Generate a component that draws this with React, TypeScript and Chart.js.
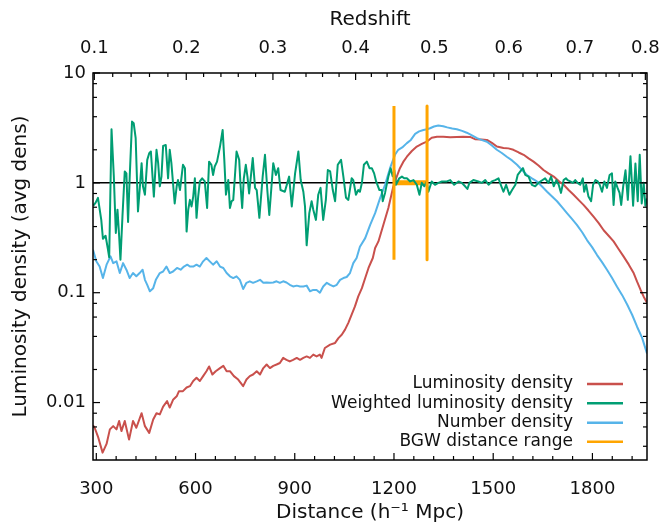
import React, { useEffect, useRef } from 'react';
import { Chart, registerables } from 'chart.js';

Chart.register(...registerables);

const FONT = '"DejaVu Sans", "Liberation Sans", sans-serif';

// Axis ranges and tick labels
const distMin = 290;
const distMax = 1965;
const densMin = 0.003;
const densMax = 10;
const distTicks = [300, 600, 900, 1200, 1500, 1800];
const redshiftLabels = ['0.1', '0.2', '0.3', '0.4', '0.5', '0.6', '0.7', '0.8'];
const redshiftDist = [294, 572, 834, 1084, 1322, 1547, 1762, 1960];
const densTicks = [0.01, 0.1, 1, 10];
const densTickLabels = ['0.01', '0.1', '1', '10'];

// Luminosity density (red)
const lumDist = [290, 295, 305, 319, 331, 341, 351, 361, 369, 376, 386, 399, 411, 421, 437, 447, 460, 472, 482, 492, 502, 514, 522, 532, 543, 550, 562, 573, 583, 593, 603, 613, 623, 633, 641, 651, 661, 674, 684, 694, 704, 716, 729, 744, 754, 764, 774, 785, 795, 805, 815, 825, 835, 845, 855, 865, 875, 885, 895, 906, 916, 926, 936, 946, 956, 966, 976, 981, 991, 1007, 1022, 1032, 1042, 1052, 1062, 1072, 1082, 1092, 1103, 1113, 1123, 1136, 1143, 1153, 1168, 1183, 1198, 1208, 1218, 1228, 1239, 1254, 1269, 1284, 1299, 1314, 1330, 1349, 1370, 1390, 1409, 1430, 1445, 1464, 1481, 1496, 1511, 1531, 1546, 1561, 1577, 1592, 1607, 1622, 1637, 1652, 1667, 1683, 1698, 1713, 1728, 1743, 1758, 1773, 1788, 1804, 1819, 1834, 1849, 1864, 1879, 1894, 1910, 1925, 1935, 1945, 1955, 1965];
const lumVal = [0.0062, 0.0059, 0.0049, 0.0035, 0.0042, 0.0057, 0.0061, 0.0057, 0.0068, 0.0055, 0.0068, 0.0046, 0.0068, 0.0059, 0.008, 0.0061, 0.0053, 0.007, 0.008, 0.0078, 0.0092, 0.0103, 0.009, 0.0106, 0.0114, 0.0127, 0.0127, 0.0137, 0.0141, 0.0157, 0.0168, 0.0157, 0.0174, 0.0193, 0.0213, 0.018, 0.0193, 0.0206, 0.0216, 0.0193, 0.0193, 0.0174, 0.0162, 0.0141, 0.0162, 0.0174, 0.018, 0.0193, 0.018, 0.0206, 0.0222, 0.0206, 0.0216, 0.0222, 0.0229, 0.0255, 0.0245, 0.0237, 0.0245, 0.0255, 0.0245, 0.0255, 0.0263, 0.0255, 0.0273, 0.0263, 0.0273, 0.0255, 0.0314, 0.0337, 0.0349, 0.0386, 0.0414, 0.0461, 0.0532, 0.0632, 0.075, 0.0925, 0.11, 0.136, 0.168, 0.207, 0.255, 0.293, 0.415, 0.59, 0.925, 1.13, 1.36, 1.55, 1.73, 1.95, 2.14, 2.26, 2.37, 2.57, 2.63, 2.63, 2.6, 2.62, 2.63, 2.62, 2.5, 2.48, 2.46, 2.31, 2.14, 2.08, 2.06, 2.0, 1.89, 1.8, 1.67, 1.56, 1.44, 1.31, 1.22, 1.14, 1.04, 0.96, 0.86, 0.78, 0.7, 0.63, 0.56, 0.49, 0.43, 0.37, 0.33, 0.293, 0.25, 0.214, 0.18, 0.15, 0.126, 0.107, 0.092, 0.081];

// Weighted luminosity density (green)
const wlumDist = [291, 298, 305, 315, 320, 328, 335, 339, 346, 353, 359, 364, 369, 373, 379, 386, 391, 396, 401, 408, 413, 419, 426, 431, 437, 441, 447, 454, 460, 465, 470, 474, 482, 487, 492, 497, 502, 510, 517, 522, 527, 537, 543, 547, 553, 562, 568, 573, 578, 583, 588, 593, 598, 603, 608, 613, 620, 628, 635, 641, 648, 653, 658, 665, 674, 682, 687, 692, 699, 704, 709, 714, 719, 724, 732, 736, 741, 746, 752, 757, 762, 773, 780, 785, 793, 803, 810, 817, 823, 835, 843, 850, 857, 870, 883, 891, 901, 911, 918, 926, 931, 936, 944, 951, 956, 964, 971, 978, 986, 994, 1000, 1007, 1015, 1022, 1030, 1040, 1047, 1055, 1062, 1072, 1077, 1085, 1092, 1097, 1103, 1109, 1118, 1126, 1133, 1140, 1146, 1156, 1163, 1166, 1173, 1183, 1190, 1196, 1201, 1206, 1216, 1224, 1231, 1239, 1249, 1259, 1269, 1277, 1284, 1292, 1299, 1304, 1314, 1324, 1334, 1345, 1360, 1370, 1382, 1395, 1405, 1415, 1422, 1428, 1440, 1455, 1466, 1476, 1486, 1496, 1506, 1516, 1523, 1531, 1539, 1549, 1557, 1567, 1574, 1582, 1590, 1597, 1607, 1617, 1627, 1637, 1647, 1657, 1667, 1675, 1683, 1691, 1698, 1705, 1713, 1720, 1725, 1733, 1741, 1748, 1755, 1763, 1771, 1775, 1781, 1788, 1796, 1802, 1809, 1816, 1822, 1829, 1836, 1844, 1852, 1859, 1864, 1869, 1876, 1882, 1887, 1893, 1900, 1907, 1915, 1923, 1930, 1937, 1943, 1949, 1955, 1960, 1965];
const wlumVal = [0.62, 0.66, 0.73, 0.46, 0.31, 0.33, 0.25, 0.21, 3.08, 1.14, 0.35, 0.57, 0.33, 0.2, 0.49, 1.27, 1.22, 0.44, 1.14, 3.61, 3.49, 2.55, 0.55, 0.86, 1.51, 0.93, 0.78, 1.62, 1.86, 1.93, 1.14, 0.75, 2.0, 1.51, 0.93, 1.14, 2.17, 2.21, 1.1, 2.0, 1.51, 0.65, 0.93, 1.06, 0.86, 1.46, 1.36, 0.36, 0.57, 0.7, 0.61, 0.75, 1.1, 0.48, 0.75, 1.03, 1.1, 1.03, 0.59, 1.56, 1.46, 1.18, 1.41, 1.56, 2.14, 3.03, 1.62, 0.78, 1.06, 0.59, 0.68, 0.7, 1.14, 1.93, 1.62, 0.96, 0.59, 1.1, 1.46, 1.14, 0.8, 1.68, 0.9, 0.86, 0.48, 1.14, 1.8, 0.86, 0.51, 1.51, 1.18, 1.36, 0.86, 0.83, 1.14, 0.61, 1.22, 1.93, 1.06, 0.83, 0.61, 0.27, 0.53, 0.68, 0.57, 0.46, 0.78, 0.9, 0.46, 0.7, 1.31, 1.27, 0.86, 0.68, 1.46, 1.62, 1.14, 0.73, 0.7, 1.1, 1.06, 0.78, 0.86, 0.83, 1.0, 1.46, 1.56, 1.36, 1.36, 1.22, 1.03, 0.86, 0.86, 0.68, 0.81, 1.14, 1.36, 1.15, 1.3, 0.96, 1.1, 1.14, 1.1, 1.1, 1.03, 1.06, 0.96, 0.78, 1.0, 0.93, 1.03, 0.83, 1.03, 0.96, 1.0, 1.03, 1.03, 1.06, 0.96, 1.03, 1.0, 0.93, 0.88, 1.0, 1.06, 1.03, 1.0, 1.06, 0.96, 1.03, 1.06, 1.1, 0.96, 0.83, 0.96, 0.78, 0.86, 0.96, 1.18, 1.27, 1.36, 1.18, 1.14, 0.96, 0.93, 1.0, 1.05, 1.1, 1.0, 1.14, 0.93, 1.06, 0.96, 0.81, 1.06, 1.1, 1.06, 1.03, 1.0, 1.06, 1.0, 0.96, 1.1, 0.83, 0.96, 0.75, 0.68, 0.96, 1.06, 1.03, 0.96, 0.83, 1.03, 0.9, 1.18, 1.22, 0.63, 1.03, 0.9, 0.81, 0.63, 0.93, 1.3, 0.7, 1.75, 0.62, 1.5, 0.68, 1.8, 0.65, 1.0, 0.62, 0.72];

// Number density (blue)
const numDist = [290, 300, 310, 320, 331, 343, 351, 361, 371, 381, 391, 401, 411, 421, 431, 440, 447, 454, 462, 472, 480, 492, 502, 512, 522, 532, 544, 555, 565, 575, 583, 593, 603, 613, 623, 633, 643, 653, 664, 674, 684, 694, 704, 714, 724, 734, 744, 754, 764, 774, 785, 795, 805, 815, 825, 835, 845, 855, 865, 875, 885, 895, 906, 916, 926, 936, 946, 956, 966, 976, 986, 997, 1007, 1017, 1027, 1037, 1047, 1057, 1067, 1077, 1087, 1097, 1113, 1128, 1143, 1158, 1173, 1188, 1203, 1213, 1225, 1239, 1251, 1264, 1276, 1289, 1300, 1309, 1321, 1334, 1349, 1361, 1376, 1390, 1406, 1420, 1433, 1451, 1464, 1481, 1496, 1511, 1526, 1541, 1557, 1572, 1587, 1602, 1617, 1632, 1647, 1663, 1678, 1693, 1708, 1723, 1738, 1753, 1769, 1784, 1799, 1814, 1829, 1844, 1859, 1874, 1890, 1905, 1920, 1935, 1950, 1965];
const numVal = [0.246, 0.193, 0.173, 0.136, 0.18, 0.214, 0.186, 0.193, 0.151, 0.186, 0.162, 0.136, 0.151, 0.141, 0.151, 0.162, 0.131, 0.118, 0.103, 0.11, 0.131, 0.151, 0.156, 0.173, 0.151, 0.156, 0.168, 0.162, 0.173, 0.18, 0.173, 0.173, 0.18, 0.173, 0.193, 0.207, 0.193, 0.18, 0.193, 0.173, 0.168, 0.151, 0.141, 0.136, 0.141, 0.131, 0.108, 0.123, 0.127, 0.123, 0.127, 0.131, 0.123, 0.124, 0.123, 0.124, 0.127, 0.123, 0.127, 0.124, 0.118, 0.114, 0.116, 0.114, 0.114, 0.116, 0.103, 0.106, 0.106, 0.1, 0.114, 0.123, 0.118, 0.114, 0.118, 0.131, 0.136, 0.139, 0.151, 0.186, 0.207, 0.262, 0.314, 0.415, 0.53, 0.726, 0.96, 1.36, 1.8, 2.0, 2.1, 2.3, 2.46, 2.79, 2.94, 3.03, 3.08, 3.14, 3.26, 3.32, 3.28, 3.2, 3.13, 3.08, 2.97, 2.86, 2.73, 2.55, 2.46, 2.37, 2.19, 2.0, 1.87, 1.73, 1.6, 1.46, 1.31, 1.18, 1.1, 1.03, 0.93, 0.83, 0.75, 0.68, 0.6, 0.53, 0.47, 0.415, 0.355, 0.3, 0.26, 0.22, 0.19, 0.162, 0.137, 0.114, 0.095, 0.078, 0.063, 0.049, 0.039, 0.028];

// BGW distance range
const bgwRange = [1200, 1300];
const bgwLow = 0.2;
const bgwHigh = 5;
const unityLevel = 1;

const legendLabels = ['Luminosity density', 'Weighted luminosity density', 'Number density', 'BGW distance range'];

const RED = '#c9504c';
const GREEN = '#009e73';
const BLUE = '#56b4e9';
const ORANGE = '#ffa500';
const legendColors = [RED, GREEN, BLUE, ORANGE];

const zip = (xs: number[], ys: (number | null)[]) => xs.map((x, i) => ({ x, y: ys[i] }));

const framePlugin = {
  id: 'frameTicks',
  afterDatasetsDraw(chart: any) {
    const { ctx, chartArea } = chart;
    const { left, right, top, bottom } = chartArea;
    const xs = chart.scales.x;
    const ys = chart.scales.y;
    ctx.save();
    ctx.strokeStyle = '#000';
    ctx.lineWidth = 1.2;
    const major = 7;
    const minor = 4;
    const seg = (x1: number, y1: number, x2: number, y2: number) => {
      ctx.beginPath();
      ctx.moveTo(x1, y1);
      ctx.lineTo(x2, y2);
      ctx.stroke();
    };
    // bottom distance ticks
    for (let d = 300; d <= distMax; d += 60) {
      const px = xs.getPixelForValue(d);
      const len = distTicks.includes(d) ? major : minor;
      seg(px, bottom, px, bottom - len);
    }
    // top redshift ticks
    for (let i = 0; i < redshiftDist.length; i++) {
      const px = xs.getPixelForValue(redshiftDist[i]);
      seg(px, top, px, top + major);
      if (i < redshiftDist.length - 1) {
        for (let k = 1; k < 5; k++) {
          const d = redshiftDist[i] + ((redshiftDist[i + 1] - redshiftDist[i]) * k) / 5;
          const mp = xs.getPixelForValue(d);
          seg(mp, top, mp, top + minor);
        }
      }
    }
    // left/right log ticks
    const decades = [0.001, 0.01, 0.1, 1];
    for (const dec of decades) {
      for (const m of [1, 2, 4, 6, 8]) {
        const v = dec * m;
        if (v < densMin || v > densMax) continue;
        const py = ys.getPixelForValue(v);
        const len = m === 1 ? major : minor;
        seg(left, py, left + len, py);
        seg(right, py, right - len, py);
      }
    }
    const pyTop = ys.getPixelForValue(10);
    seg(left, pyTop, left + major, pyTop);
    seg(right, pyTop, right - major, pyTop);
    // frame
    ctx.lineWidth = 1.5;
    ctx.strokeRect(left, top, right - left, bottom - top);

    // legend
    ctx.font = '17px ' + FONT;
    ctx.textAlign = 'right';
    ctx.textBaseline = 'middle';
    ctx.fillStyle = '#111';
    const rowY = [384, 403.3, 422.7, 441.7];
    for (let i = 0; i < legendLabels.length; i++) {
      ctx.fillText(legendLabels[i], 573, rowY[i]);
      ctx.strokeStyle = legendColors[i];
      ctx.lineWidth = 2.5;
      seg(587, rowY[i], 623, rowY[i]);
    }
    ctx.restore();
  },
};

export default function App() {
  const ref = useRef<HTMLCanvasElement>(null);
  useEffect(() => {
    if (!ref.current) return;
    Chart.defaults.font.family = FONT;
    Chart.defaults.color = '#111';
    const lineBase = { pointRadius: 0, borderWidth: 2, tension: 0, fill: false, borderJoinStyle: 'round' as const };
    const chart = new Chart(ref.current, {
      type: 'line',
      data: {
        datasets: [
          { ...lineBase, label: 'unity', data: zip([distMin, distMax], [unityLevel, unityLevel]), borderColor: '#000', borderWidth: 1.5, order: 5 },
          { ...lineBase, label: 'band', data: zip(bgwRange, [unityLevel, unityLevel]), borderColor: ORANGE, borderWidth: 5, borderCapStyle: 'butt', order: 4 },
          { ...lineBase, label: legendLabels[0], data: zip(lumDist, lumVal), borderColor: RED, order: 3 },
          { ...lineBase, label: legendLabels[2], data: zip(numDist, numVal), borderColor: BLUE, order: 2 },
          { ...lineBase, label: legendLabels[1], data: zip(wlumDist, wlumVal), borderColor: GREEN, order: 1 },
          {
            ...lineBase,
            label: legendLabels[3],
            data: zip([bgwRange[0], bgwRange[0], (bgwRange[0] + bgwRange[1]) / 2, bgwRange[1], bgwRange[1]], [bgwLow, bgwHigh, null, bgwHigh, bgwLow]),
            borderColor: ORANGE,
            borderWidth: 3,
            borderCapStyle: 'butt',
            spanGaps: false,
            order: 0,
          },
        ],
      },
      options: {
        responsive: false,
        animation: false,
        devicePixelRatio: 1,
        layout: { padding: { left: 0, right: 18, top: 0, bottom: 0 } },
        plugins: { legend: { display: false }, tooltip: { enabled: false } },
        scales: {
          x: {
            type: 'linear',
            position: 'bottom',
            min: distMin,
            max: distMax,
            afterBuildTicks: (s: any) => { s.ticks = distTicks.map((v) => ({ value: v })); },
            afterFit: (s: any) => { s.height = 64; s.paddingLeft = 0; s.paddingRight = 0; },
            grid: { display: false, drawTicks: false },
            border: { display: false },
            ticks: { autoSkip: false, maxRotation: 0, minRotation: 0, padding: 19, font: { size: 18 }, color: '#111', callback: (v: any) => String(v) },
            title: { display: true, text: 'Distance (h⁻¹ Mpc)', font: { size: 20, lineHeight: 1 }, padding: { top: 0, bottom: 1 }, color: '#111' },
          },
          x2: {
            type: 'linear',
            position: 'top',
            min: distMin,
            max: distMax,
            afterBuildTicks: (s: any) => { s.ticks = redshiftDist.map((v) => ({ value: v })); },
            afterFit: (s: any) => { s.height = 73; s.paddingLeft = 0; s.paddingRight = 0; },
            grid: { display: false, drawTicks: false },
            border: { display: false },
            ticks: { autoSkip: false, maxRotation: 0, minRotation: 0, padding: 14, font: { size: 18 }, color: '#111', callback: (_v: any, i: number) => redshiftLabels[i] },
            title: { display: true, text: 'Redshift', font: { size: 20, lineHeight: 1 }, padding: { top: 10, bottom: 0 }, color: '#111' },
          },
          y: {
            type: 'logarithmic',
            position: 'left',
            min: densMin,
            max: densMax,
            afterBuildTicks: (s: any) => { s.ticks = densTicks.map((v) => ({ value: v })); },
            afterFit: (s: any) => { s.width = 93; s.paddingTop = 0; s.paddingBottom = 0; },
            grid: { display: false, drawTicks: false },
            border: { display: false },
            ticks: { autoSkip: false, padding: 7, font: { size: 18 }, color: '#111', callback: (_v: any, i: number) => densTickLabels[i] },
            title: { display: true, text: 'Luminosity density (avg dens)', font: { size: 20, lineHeight: 1 }, padding: { top: 11, bottom: 0 }, color: '#111' },
          },
        },
      } as any,
      plugins: [framePlugin],
    });
    return () => chart.destroy();
  }, []);
  return (
    <div style={{ position: 'fixed', left: 0, top: 0, width: 665, height: 524, background: '#fff' }}>
      <canvas ref={ref} width={665} height={524} style={{ display: 'block' }} />
    </div>
  );
}
